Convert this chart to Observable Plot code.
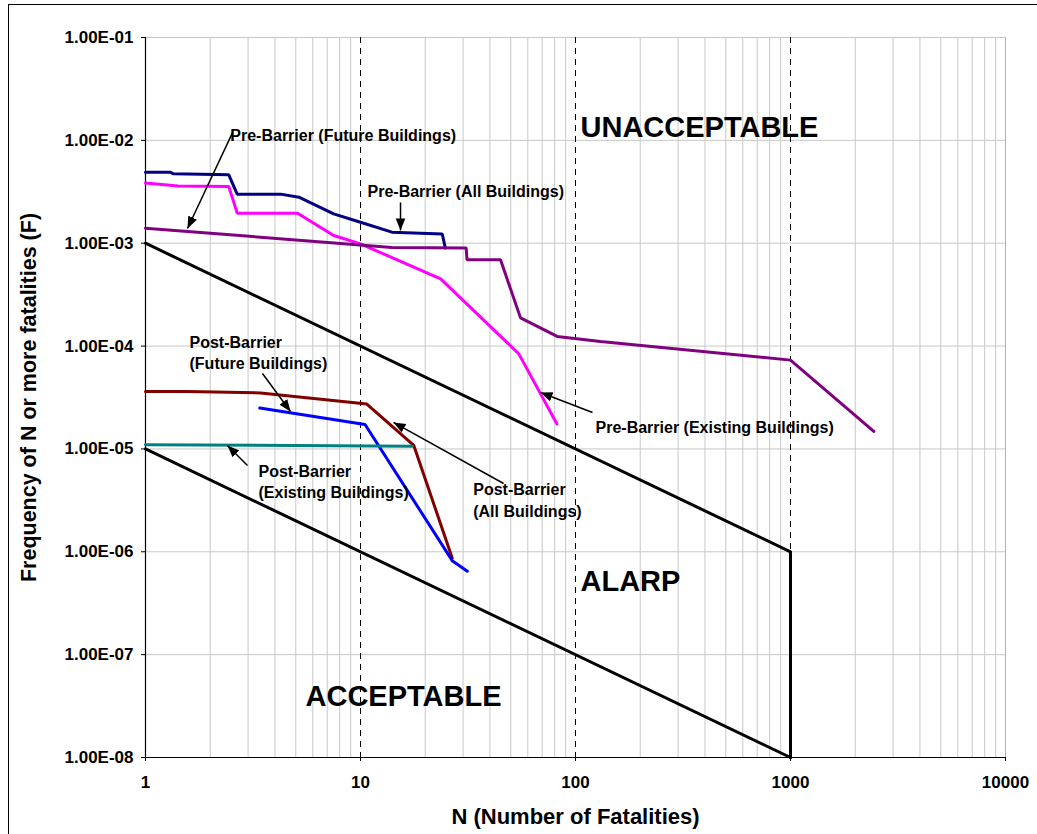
<!DOCTYPE html>
<html>
<head>
<meta charset="utf-8">
<script src="https://cdn.jsdelivr.net/npm/d3@7"></script>
<script src="https://cdn.jsdelivr.net/npm/@observablehq/plot@0.6"></script>
<style>
  html, body { margin: 0; padding: 0; background: #fff; overflow: hidden; }
  #wrap { position: relative; width: 1037px; height: 834px; }
  #frame { position: absolute; left: 8px; top: 4px; width: 1100px; height: 900px; border-left: 1.5px solid #000; border-top: 1.5px solid #000; pointer-events: none; }
  svg { font-family: "Liberation Sans", Arial, sans-serif; }
</style>
</head>
<body>
<div id="wrap"><div id="frame"></div><div id="chart"></div></div>
<script>
// ---- Data (N, F) ----
const preAll = [[1,4.9e-3],[1.3,4.9e-3],[1.35,4.73e-3],[2.44,4.62e-3],[2.67,3.0e-3],[4.25,3.0e-3],[5.17,2.8e-3],[7.5,1.93e-3],[10,1.6e-3],[14,1.28e-3],[24,1.23e-3],[24.8,9.0e-4]];
const preExisting = [[1,3.84e-3],[1.42,3.6e-3],[2.44,3.55e-3],[2.67,1.96e-3],[5.1,1.96e-3],[7.5,1.19e-3],[10,9.86e-4],[23.6,4.5e-4],[54.5,8.4e-5],[82,1.75e-5]];
const preFuture = [[1,1.4e-3],[14,9.1e-4],[31,9.0e-4],[31.3,6.9e-4],[44.8,6.9e-4],[55.5,1.88e-4],[82.2,1.24e-4],[130.7,1.11e-4],[1000,7.3e-5],[2440,1.48e-5]];
const postAll = [[1,3.62e-5],[1.56,3.62e-5],[3.43,3.5e-5],[10.7,2.73e-5],[17.7,1.08e-5],[26.7,8.7e-7]];
const postFuture = [[3.4,2.5e-5],[10.5,1.73e-5],[26.7,8.2e-7],[31.4,6.47e-7]];
const postExisting = [[1,1.1e-5],[17.4,1.06e-5]];
const upperLimit = [[1,1e-3],[1000,1e-6],[1000,1e-8]];
const lowerLimit = [[1,1e-5],[1000,1e-8]];

const seriesNames = ["preAll","preExisting","preFuture","postAll","postFuture","postExisting"];
const seriesColors = ["#000080","#FF00FF","#800080","#800000","#0000FF","#008080"];
const seriesData = [preAll, preExisting, preFuture, postAll, postFuture, postExisting];

// ---- Ticks ----
const xTicks = [1, 10, 100, 1000, 10000];
const xTickLabels = ["1", "10", "100", "1000", "10000"];
const yTicks = [1e-8, 1e-7, 1e-6, 1e-5, 1e-4, 1e-3, 1e-2, 1e-1];
const yTickLabels = ["1.00E-08","1.00E-07","1.00E-06","1.00E-05","1.00E-04","1.00E-03","1.00E-02","1.00E-01"];
const dashedN = [10, 100, 1000];

// ---- Annotations ----
const regionLabels = [
  {text: "UNACCEPTABLE", x: 105.5, y: 1.32e-2},
  {text: "ALARP", x: 105.5, y: 5.14e-7},
  {text: "ACCEPTABLE", x: 5.55, y: 3.86e-8}
];
const noteLabels = [
  {text: "Pre-Barrier (Future Buildings)", x: 2.48, y: 1.10e-2},
  {text: "Pre-Barrier (All Buildings)", x: 10.78, y: 3.15e-3},
  {text: "Pre-Barrier (Existing Buildings)", x: 123.9, y: 1.60e-5},
  {text: "Post-Barrier", x: 1.602, y: 1.078e-4},
  {text: "(Future Buildings)", x: 1.602, y: 6.65e-5},
  {text: "Post-Barrier", x: 3.355, y: 5.97e-6},
  {text: "(Existing Buildings)", x: 3.355, y: 3.75e-6},
  {text: "Post-Barrier", x: 33.44, y: 3.99e-6},
  {text: "(All Buildings)", x: 33.44, y: 2.44e-6}
];
const noteArrows = [
  {x1: 2.54, y1: 1.19e-2, x2: 1.568, y2: 1.39e-3},
  {x1: 15.35, y1: 2.49e-3, x2: 15.35, y2: 1.33e-3},
  {x1: 120, y1: 2.26e-5, x2: 68.8, y2: 3.54e-5},
  {x1: 3.50, y1: 5.41e-5, x2: 4.725, y2: 2.31e-5},
  {x1: 2.98, y1: 6.90e-6, x2: 2.406, y2: 1.08e-5},
  {x1: 46.3, y1: 4.61e-6, x2: 14.24, y2: 1.81e-5}
];

const xLabelMap = new Map(xTicks.map((t, i) => [t, xTickLabels[i]]));
const yLabelMap = new Map(yTicks.map((t, i) => [t, yTickLabels[i]]));

// minor grid positions (2..9 per decade)
const minorN = [];
for (const d of [1, 10, 100, 1000]) for (let k = 2; k <= 9; k++) minorN.push(k * d);

const seriesRows = seriesData.flatMap((arr, i) => arr.map(([n, f]) => ({name: seriesNames[i], n, f})));

const chart = Plot.plot({
  width: 1037,
  height: 834,
  marginLeft: 145,
  marginRight: 32,
  marginTop: 37,
  marginBottom: 77,
  style: {fontFamily: "'Liberation Sans', Arial, sans-serif", background: "transparent"},
  x: {type: "log", domain: [1, 10000], axis: null},
  y: {type: "log", domain: [1e-8, 1e-1], axis: null},
  color: {domain: seriesNames, range: seriesColors},
  marks: [
    Plot.ruleX(minorN, {stroke: "#c8c8c8", strokeWidth: 1}),
    Plot.ruleY(yTicks, {stroke: "#c8c8c8", strokeWidth: 1}),
    Plot.ruleX([10000], {stroke: "#b0b0b0", strokeWidth: 1}),
    Plot.ruleX(dashedN, {stroke: "#000", strokeWidth: 1, strokeDasharray: "6,5"}),
    Plot.ruleX([1], {stroke: "#000", strokeWidth: 1.2}),
    Plot.ruleY([1e-8], {stroke: "#000", strokeWidth: 1.2}),
    Plot.axisY(yTicks, {tickSize: 4, tickPadding: 8, tickFormat: d => yLabelMap.get(d), fontSize: 17, fontWeight: "bold", fill: "#000", stroke: "#000", label: null}),
    Plot.axisX(xTicks, {tickSize: 4, tickPadding: 14, tickFormat: d => xLabelMap.get(d), fontSize: 17, fontWeight: "bold", fill: "#000", stroke: "#000", label: null}),
    Plot.line(upperLimit, {x: d => d[0], y: d => d[1], stroke: "#000", strokeWidth: 3}),
    Plot.line(lowerLimit, {x: d => d[0], y: d => d[1], stroke: "#000", strokeWidth: 3}),
    Plot.line(seriesRows, {x: "n", y: "f", z: "name", stroke: "name", strokeWidth: 3, strokeLinejoin: "miter"}),
    Plot.link(noteArrows, {x1: "x1", y1: "y1", x2: "x2", y2: "y2", stroke: "#000", strokeWidth: 1.5, className: "note-arrow"}),
    Plot.text(noteLabels, {x: "x", y: "y", text: "text", textAnchor: "start", fontSize: 16, fontWeight: "bold", fill: "#000"}),
    Plot.text(regionLabels, {x: "x", y: "y", text: "text", textAnchor: "start", fontSize: 29, fontWeight: "bold", fill: "#000"}),
    Plot.text(["N (Number of Fatalities)"], {frameAnchor: "bottom", dy: 59, lineAnchor: "middle", textAnchor: "middle", fontSize: 22, fontWeight: "bold", fill: "#000"}),
    Plot.text(["Frequency of N or more fatalities (F)"], {frameAnchor: "left", dx: -116, textAnchor: "middle", lineAnchor: "middle", rotate: -90, fontSize: 21.5, fontWeight: "bold", fill: "#000"})
  ]
});

const ns = "http://www.w3.org/2000/svg";
// filled arrowheads for annotation arrows
const defs = document.createElementNS(ns, "defs");
const marker = document.createElementNS(ns, "marker");
marker.setAttribute("id", "ah");
marker.setAttribute("viewBox", "0 -5 10 10");
marker.setAttribute("refX", "10");
marker.setAttribute("refY", "0");
marker.setAttribute("markerWidth", "12");
marker.setAttribute("markerHeight", "12");
marker.setAttribute("markerUnits", "userSpaceOnUse");
marker.setAttribute("orient", "auto");
const mp = document.createElementNS(ns, "path");
mp.setAttribute("d", "M0,-4L10,0L0,4Z");
mp.setAttribute("fill", "#000");
mp.setAttribute("stroke", "none");
marker.appendChild(mp);
defs.appendChild(marker);
chart.insertBefore(defs, chart.firstChild);
chart.querySelectorAll(".note-arrow path").forEach(p => p.setAttribute("marker-end", "url(#ah)"));

document.getElementById("chart").appendChild(chart);
</script>
</body>
</html>
